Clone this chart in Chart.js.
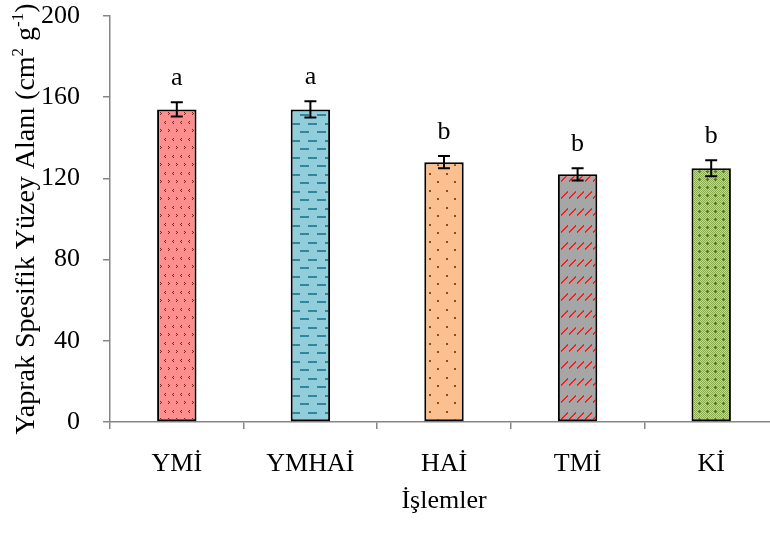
<!DOCTYPE html>
<html>
<head>
<meta charset="utf-8">
<script src="https://cdn.jsdelivr.net/npm/chart.js@4.4.1/dist/chart.umd.min.js"></script>
<style>
html,body{margin:0;padding:0;overflow:hidden;background:#fff;width:770px;height:537px;}
#wrap{position:absolute;left:0;top:0;width:778px;height:537px;}
</style>
</head>
<body>
<div id="wrap"><canvas id="c" width="778" height="537"></canvas></div>
<script>
const categories = ['YMİ', 'YMHAİ', 'HAİ', 'TMİ', 'Kİ'];
const means = [154, 154, 128, 122, 125];
const errors = [3.5, 4, 3, 3, 4];
const letters = ['a', 'a', 'b', 'b', 'b'];
const yTicks = [0, 40, 80, 120, 160, 200];
const xTitle = 'İşlemler';
const yTitleMain = 'Yaprak Spesifik Yüzey Alanı (cm';
const FONT = '"Liberation Serif", "Times New Roman", serif';
const FS = 26;
const FST = 28;

function tile(w, h, bg, draw) {
  const c = document.createElement('canvas');
  c.width = w; c.height = h;
  const g = c.getContext('2d');
  g.fillStyle = bg; g.fillRect(0, 0, w, h);
  draw(g);
  return document.createElement('canvas').getContext('2d').createPattern(c, 'repeat');
}
const patYMI = tile(16, 17, '#FF8F8F', g => {
  g.fillStyle = '#7A1F1F';
  g.fillRect(5, 2, 1, 1); g.fillRect(4, 3, 1, 1); g.fillRect(5, 4, 1, 1);
  g.fillRect(13, 2, 1, 1); g.fillRect(12, 3, 1, 1); g.fillRect(13, 4, 1, 1);
  g.fillRect(8, 10, 1, 1); g.fillRect(9, 11, 1, 1); g.fillRect(8, 12, 1, 1);
  g.fillRect(0, 10, 1, 1); g.fillRect(1, 11, 1, 1); g.fillRect(0, 12, 1, 1);
});
const patYMHAI = tile(17, 17, '#92CDDC', g => {
  g.fillStyle = '#31859C';
  g.fillRect(2, 4, 9, 2);
  g.fillRect(11, 12, 6, 2); g.fillRect(0, 12, 3, 2);
});
const patHAI = tile(17, 17, '#FAC090', g => {
  g.fillStyle = '#984807';
  g.fillRect(4, 3, 2, 2);
  g.fillRect(12, 11, 2, 2);
});
const patTMI = tile(8, 17, '#A6A6A6', g => {
  g.fillStyle = '#FF1A1A';
  for (let i = 0; i < 7; i++) g.fillRect(1 + i, 10 - i, 1, 2);
});
const patKI = tile(8, 8, '#C3D69B', g => {
  g.fillStyle = '#8AAA4F';
  for (let y = 0; y < 8; y++) for (let x = 0; x < 8; x++) if ((x + y) % 2 === 0) g.fillRect(x, y, 1, 1);
  g.fillStyle = '#5A7030';
  g.fillRect(3, 2, 1, 3); g.fillRect(2, 3, 3, 1);
});
const patterns = [patYMI, patYMHAI, patHAI, patTMI, patKI];

const overlay = {
  id: 'overlay',
  afterDatasetsDraw(chart) {
    const ctx = chart.ctx;
    const ys = chart.scales.y;
    const meta = chart.getDatasetMeta(0);
    ctx.save();
    meta.data.forEach((bar, i) => {
      const x = bar.x;
      const top = ys.getPixelForValue(means[i] + errors[i]);
      const bot = ys.getPixelForValue(means[i] - errors[i]);
      ctx.strokeStyle = '#000';
      ctx.lineWidth = 2;
      ctx.beginPath();
      ctx.moveTo(x, top); ctx.lineTo(x, bot);
      ctx.moveTo(x - 6, top); ctx.lineTo(x + 6, top);
      ctx.moveTo(x - 6, bot); ctx.lineTo(x + 6, bot);
      ctx.stroke();
      ctx.fillStyle = '#000';
      ctx.font = FS + 'px ' + FONT;
      ctx.textAlign = 'center';
      ctx.textBaseline = 'alphabetic';
      ctx.fillText(letters[i], x, top - 17);
    });
    const cy = (chart.chartArea.top + chart.chartArea.bottom) / 2;
    ctx.translate(34, cy);
    ctx.rotate(-Math.PI / 2);
    ctx.textBaseline = 'alphabetic';
    ctx.textAlign = 'left';
    const big = FST + 'px ' + FONT, small = Math.round(FST * 0.62) + 'px ' + FONT;
    const parts = [[yTitleMain, big, 0], ['2', small, -11], [' g', big, 0], ['-1', small, -11], [')', big, 0]];
    let total = 0;
    parts.forEach(p => { ctx.font = p[1]; total += ctx.measureText(p[0]).width; });
    let px = -total / 2;
    parts.forEach(p => { ctx.font = p[1]; ctx.fillText(p[0], px, p[2]); px += ctx.measureText(p[0]).width; });
    ctx.restore();
  }
};

new Chart(document.getElementById('c'), {
  type: 'bar',
  data: {
    labels: categories,
    datasets: [{
      data: means,
      backgroundColor: patterns,
      borderColor: '#000',
      borderWidth: 2,
      borderSkipped: false,
      barPercentage: 0.59,
      categoryPercentage: 0.5
    }]
  },
  options: {
    responsive: false,
    animation: false,
    events: [],
    layout: { padding: { top: 16, left: 0, right: 0, bottom: 0 } },
    plugins: { legend: { display: false }, tooltip: { enabled: false } },
    scales: {
      x: {
        grid: { offset: true, drawOnChartArea: false, drawTicks: true, tickLength: 7, color: '#868686', lineWidth: 1.5 },
        border: { display: true, color: '#868686', width: 1.5 },
        ticks: { color: '#000', font: { family: FONT, size: FS }, padding: 20, maxRotation: 0 },
        title: { display: true, text: xTitle, color: '#000', font: { family: FONT, size: FS }, padding: { top: 0, bottom: 20 } },
        afterFit(s) { s.height = 537 - 422; s.paddingLeft = 0; s.paddingRight = 0; }
      },
      y: {
        min: 0, max: 200,
        afterBuildTicks(s) { s.ticks = yTicks.map(v => ({ value: v })); },
        grid: { drawOnChartArea: false, drawTicks: true, tickLength: 7, color: '#868686', lineWidth: 1.5 },
        border: { display: true, color: '#868686', width: 1.5 },
        ticks: { color: '#000', font: { family: FONT, size: FS }, padding: 23 },
        afterFit(s) { s.width = 110; s.paddingTop = 0; s.paddingBottom = 0; }
      }
    }
  },
  plugins: [overlay]
});
</script>
</body>
</html>
